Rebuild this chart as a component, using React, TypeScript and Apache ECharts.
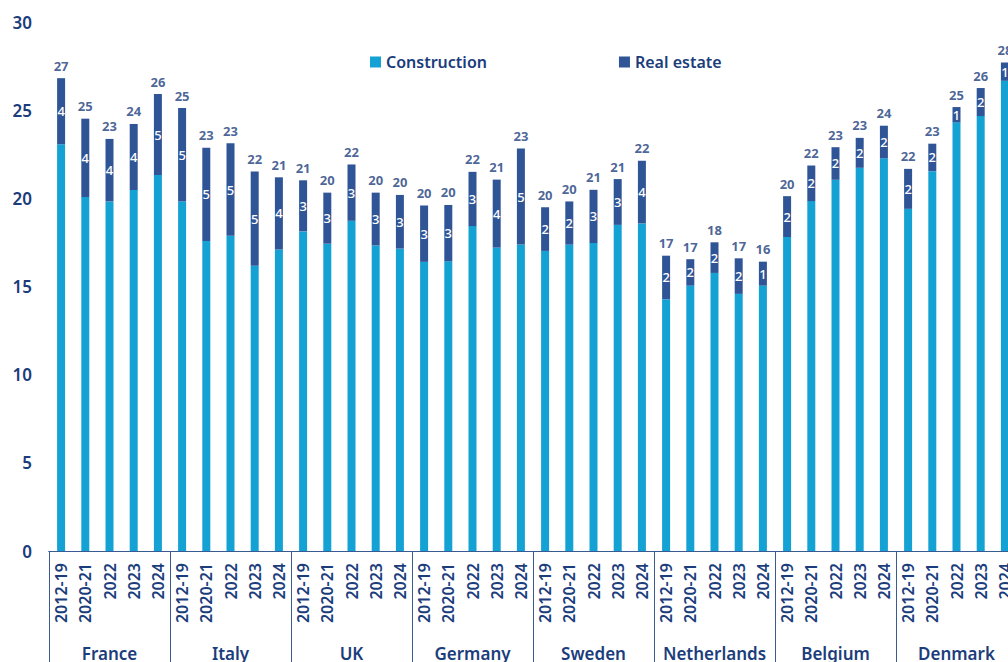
import React, { useEffect, useRef } from "react";
import * as echarts from "echarts";

const countries = ["France", "Italy", "UK", "Germany", "Sweden", "Netherlands", "Belgium", "Denmark"];
const periods = ["2012-19", "2020-21", "2022", "2023", "2024"];

const construction = [
  23.1, 20.1, 19.85, 20.5, 21.35,
  19.85, 17.6, 17.9, 16.2, 17.12,
  18.15, 17.45, 18.75, 17.35, 17.17,
  16.42, 16.45, 18.45, 17.23, 17.4,
  17.04, 17.4, 17.49, 18.52, 18.6,
  14.3, 15.07, 15.79, 14.6, 15.07,
  17.83, 19.87, 21.08, 21.76, 22.3,
  19.43, 21.57, 24.34, 24.7, 26.7,
];

const realEstate = [
  3.75, 4.45, 3.55, 3.75, 4.6,
  5.3, 5.3, 5.25, 5.35, 4.1,
  2.9, 2.9, 3.2, 3.0, 3.05,
  3.2, 3.2, 3.08, 3.86, 5.45,
  2.48, 2.45, 3.02, 2.6, 3.56,
  2.47, 1.5, 1.74, 2.02, 1.36,
  2.32, 2.02, 1.85, 1.7, 1.85,
  2.27, 1.56, 0.87, 1.59, 1.04,
];

const yTicks = [0, 5, 10, 15, 20, 25, 30];

const NAVY = "#1b3d7c";
const LIGHT = "#14a1d4";
const DARK = "#2f5597";
const FONT = "'Noto Sans', sans-serif";

export default function App() {
  const ref = useRef<HTMLDivElement>(null);

  useEffect(() => {
    if (!ref.current) return;
    const chart = echarts.init(ref.current, undefined, { renderer: "svg" });
    const categories: string[] = [];
    countries.forEach(() => periods.forEach((p) => categories.push(p)));
    const totals = construction.map((c, i) => +(c + realEstate[i]).toFixed(2));

    chart.setOption({
      animation: false,
      textStyle: { fontFamily: FONT },
      grid: { left: 49, right: 13, top: 22.7, bottom: 107, containLabel: false },
      legend: {
        data: ["Construction", "Real estate"],
        left: 365,
        top: 49,
        itemWidth: 11,
        itemHeight: 11,
        itemGap: 132,
        icon: "rect",
        textStyle: { color: NAVY, fontSize: 16, fontWeight: 600, fontFamily: FONT },
      },
      xAxis: [
        {
          type: "category",
          data: categories,
          position: "bottom",
          axisLine: { show: true, lineStyle: { color: "#3a5a94", width: 1 } },
          axisTick: { show: false },
          axisLabel: {
            interval: 0,
            rotate: 90,
            margin: 12,
            color: NAVY,
            fontSize: 16,
            fontWeight: 600,
            fontFamily: FONT,
          },
        },
        {
          type: "category",
          data: countries,
          position: "bottom",
          axisLine: { show: true, lineStyle: { color: "#3a5a94", width: 1 } },
          axisTick: { show: true, interval: 0, length: 112, lineStyle: { color: "#3a5a94", width: 1 } },
          axisLabel: {
            interval: 0,
            margin: 94,
            color: NAVY,
            fontSize: 17,
            fontWeight: 600,
            fontFamily: FONT,
          },
        },
      ],
      yAxis: {
        type: "value",
        min: yTicks[0],
        max: yTicks[yTicks.length - 1],
        interval: 5,
        splitLine: { show: false },
        axisLine: { show: false },
        axisTick: { show: false },
        axisLabel: { color: NAVY, fontSize: 17, fontWeight: 600, margin: 17, fontFamily: FONT },
      },
      series: [
        {
          name: "Construction",
          type: "bar",
          stack: "total",
          barWidth: 8,
          data: construction,
          itemStyle: { color: LIGHT },
        },
        {
          name: "Real estate",
          type: "bar",
          stack: "total",
          barWidth: 8,
          data: realEstate,
          itemStyle: { color: DARK },
          label: {
            show: true,
            position: "inside",
            color: "#ffffff",
            fontSize: 13,
            fontWeight: 500,
            fontFamily: FONT,
            formatter: (p: any) => String(Math.round(p.value)),
          },
        },
        {
          name: "Total",
          type: "scatter",
          data: totals,
          symbolSize: 0,
          silent: true,
          label: {
            show: true,
            position: "top",
            distance: 6,
            color: NAVY,
            fontSize: 13,
            fontWeight: 700,
            fontFamily: FONT,
            formatter: (p: any) => String(Math.round(p.value)),
          },
        },
      ],
    });
    return () => chart.dispose();
  }, []);

  return (
    <div style={{ position: "fixed", left: 0, top: 0, width: 1008, height: 662, overflow: "hidden", background: "#fff" }}>
      <div ref={ref} style={{ width: 1030, height: 662 }} />
    </div>
  );
}
